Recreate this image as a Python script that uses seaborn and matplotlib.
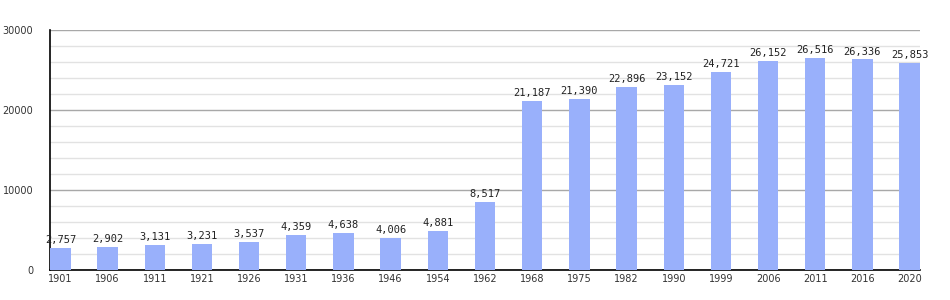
import matplotlib
matplotlib.use("Agg")
import matplotlib.pyplot as plt
import seaborn as sns
import pandas as pd
from matplotlib.ticker import MultipleLocator

years = ["1901", "1906", "1911", "1921", "1926", "1931", "1936", "1946", "1954", "1962",
         "1968", "1975", "1982", "1990", "1999", "2006", "2011", "2016", "2020"]
population = [2757, 2902, 3131, 3231, 3537, 4359, 4638, 4006, 4881, 8517,
              21187, 21390, 22896, 23152, 24721, 26152, 26516, 26336, 25853]

df = pd.DataFrame({"year": years, "pop": population})

sns.set_style("white")
plt.rcParams['font.family'] = ['DejaVu Sans']

fig = plt.figure(figsize=(9.5, 3.0), dpi=100)
ax = fig.add_axes([50/950, 30/300, 870/950, 240/300])

sns.barplot(data=df, x="year", y="pop", color="#99b0fb", saturation=1,
            width=0.43, ax=ax, zorder=3, linewidth=0, edgecolor="none")

ax.set_xlim(-0.22, len(years) - 1 + 0.22)
ax.set_ylim(0, 30000)
ax.yaxis.set_major_locator(MultipleLocator(10000))
ax.yaxis.set_minor_locator(MultipleLocator(2000))
ax.grid(which="major", axis="y", color="#a8a8a8", linewidth=1, zorder=0)
ax.grid(which="minor", axis="y", color="#e2e2e2", linewidth=1, zorder=0)
ax.set_axisbelow(True)

for s in ["top", "right"]:
    ax.spines[s].set_visible(False)
ax.spines["left"].set_color("black")
ax.spines["bottom"].set_color("black")
ax.spines["left"].set_linewidth(1.2)
ax.spines["bottom"].set_linewidth(1.2)

ax.tick_params(axis="y", which="major", length=0, labelsize=7, colors="#333333", pad=12)
ax.tick_params(axis="y", which="minor", length=3, color="black", direction="out")
ax.tick_params(axis="x", length=0, labelsize=7, colors="#333333", pad=3)
ax.set_xlabel("")
ax.set_ylabel("")

labels = [f"{v:,}" for v in population]
ax.bar_label(ax.containers[0], labels=labels, padding=2, fontsize=7.5,
             family="DejaVu Sans Mono", color="#222222")

fig.savefig("out.png", dpi=100)
